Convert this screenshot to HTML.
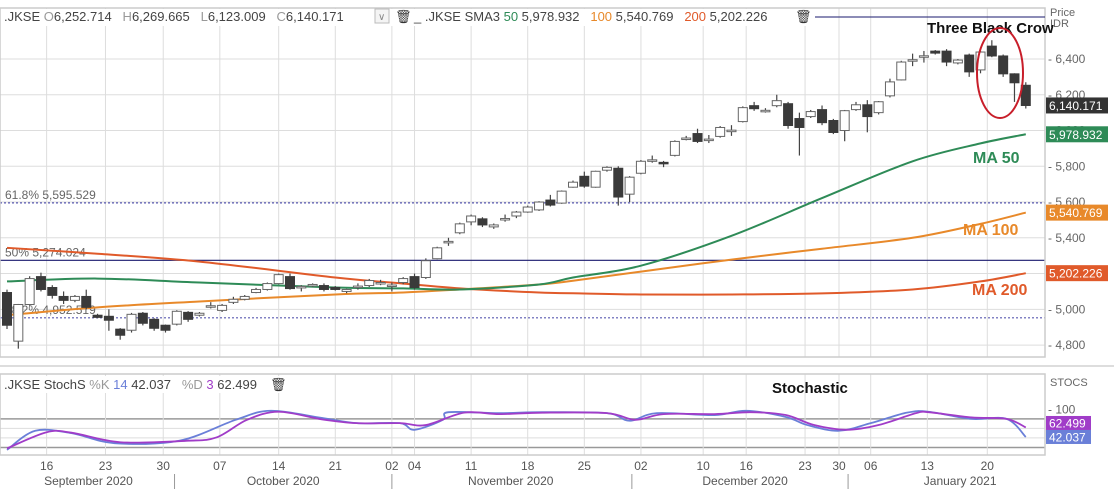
<!DOCTYPE html>
<html><head><meta charset="utf-8"><style>
html,body{margin:0;padding:0;background:#fff;}
svg{display:block;font-family:"Liberation Sans",sans-serif;}
</style></head><body>
<svg id="chart" width="1114" height="489" viewBox="0 0 1114 489" xmlns="http://www.w3.org/2000/svg">
<rect x="0" y="0" width="1114" height="489" fill="#fff"/>
<g id="grid"></g>
<g id="fib"></g>
<g id="ma"></g>
<g id="candles"></g>
<g id="stoch"></g>
<g id="axes"></g>
<rect x="0" y="8" width="1045" height="349" fill="none" stroke="#ccc" stroke-width="1.5"/>
<line x1="0" y1="366" x2="1114" y2="366" stroke="#ddd" stroke-width="2"/>
<rect x="0" y="374" width="1045" height="81" fill="none" stroke="#ccc" stroke-width="1.5"/>
<rect x="1" y="9" width="810" height="17" fill="#fff"/>
<text x="4" y="21" font-size="13" fill="#444">.JKSE <tspan fill="#999">O</tspan>6,252.714 &#160;&#160;<tspan fill="#999">H</tspan>6,269.665 &#160;&#160;<tspan fill="#999">L</tspan>6,123.009 &#160;&#160;<tspan fill="#999">C</tspan>6,140.171</text>
<rect x="375" y="9" width="14" height="14" fill="#f4f4f4" stroke="#bbb"/>
<text x="378" y="20" font-size="10" fill="#888">&#8744;</text>
<text x="395" y="21" font-size="13" fill="#333">&#128465;</text>
<text x="414" y="21" font-size="13" fill="#444">_ .JKSE SMA3 <tspan fill="#2e8b57">50</tspan> 5,978.932 &#160;&#160;<tspan fill="#e8892a">100</tspan> 5,540.769 &#160;&#160;<tspan fill="#e05a2a">200</tspan> 5,202.226</text>
<text x="795" y="21" font-size="13" fill="#333">&#128465;</text>
<line x1="815" y1="17" x2="1045" y2="17" stroke="#1a1a6e" stroke-width="1"/>
<text x="1050" y="16" font-size="11" fill="#666">Price</text>
<text x="1050" y="27" font-size="11" fill="#666">IDR</text>
<text x="927" y="33" font-size="15" font-weight="bold" fill="#111">Three Black Crow</text>
<ellipse cx="1000" cy="73" rx="23" ry="45" fill="none" stroke="#c81e2a" stroke-width="2"/>
<text x="973" y="163" font-size="16" font-weight="bold" fill="#2e8b57">MA 50</text>
<text x="963" y="235" font-size="16" font-weight="bold" fill="#e8892a">MA 100</text>
<text x="972" y="295" font-size="16" font-weight="bold" fill="#e05a2a">MA 200</text>
<rect x="1" y="376" width="290" height="17" fill="#fff"/>
<text x="4" y="389" font-size="13" fill="#444">.JKSE StochS <tspan fill="#999">%K</tspan> <tspan fill="#6a7fd8">14</tspan> 42.037 &#160;&#160;<tspan fill="#999">%D</tspan> <tspan fill="#a03cc8">3</tspan> 62.499</text>
<text x="270" y="389" font-size="13" fill="#333">&#128465;</text>
<text x="772" y="393" font-size="15" font-weight="bold" fill="#111">Stochastic</text>
<text x="1050" y="386" font-size="11" fill="#666">STOCS</text>
</svg>
<script>
const NS='http://www.w3.org/2000/svg';
// OHLC per trading day
const opens=[5094,4822,5027,5183,5122,5072,5050,5072,4967,4961,4889,4883,4978,4944,4911,4917,4983,4967,5017,4994,5039,5056,5094,5111,5144,5183,5122,5133,5133,5122,5100,5128,5133,5150,5133,5150,5183,5178,5283,5378,
5428,5489,5506,5461,5506,5522,5544,5556,5611,5594,5683,5744,5683,5778,5789,5644,5761,5833,5822,5861,5956,5983,5950,5967,6000,6050,6139,6111,6139,6150,6067,6078,6117,6056,6000,6117,6144,6100,
6194,6283,6394,6415,6444,6444,6378,6422,6339,6472,6417,6317,6253];
const closes=[4911,5027,5172,5111,5078,5050,5072,5011,4955,4939,4855,4972,4922,4894,4883,4989,4944,4978,5020,5022,5056,5072,5111,5144,5194,5116,5128,5139,5111,5111,5111,5130,5161,5150,5136,5172,5122,5272,5344,5380,
5478,5522,5472,5472,5508,5544,5572,5600,5583,5661,5711,5689,5772,5794,5628,5739,5828,5836,5820,5939,5958,5939,5952,6017,6002,6128,6122,6113,6167,6028,6017,6106,6044,5989,6111,6144,6078,6161,
6272,6383,6396,6418,6433,6383,6394,6328,6439,6417,6317,6267,6140];
const highs=[5110,5030,5185,5205,5135,5100,5080,5110,4975,5000,4895,4980,4985,4950,4915,4995,4990,4985,5040,5030,5070,5080,5120,5150,5200,5200,5135,5145,5145,5130,5115,5145,5170,5165,5150,5180,5200,5285,5350,5400,
5485,5530,5515,5480,5530,5550,5580,5605,5640,5665,5720,5770,5775,5800,5800,5745,5835,5860,5830,5945,5970,6010,5975,6025,6030,6135,6160,6125,6200,6160,6100,6115,6140,6065,6115,6160,6170,6165,
6290,6390,6430,6445,6450,6455,6400,6430,6445,6505,6425,6320,6270];
const lows=[4890,4780,5020,5100,5060,5030,5040,5000,4950,4880,4830,4870,4910,4880,4870,4910,4930,4960,5005,4985,5030,5050,5090,5105,5140,5110,5100,5125,5100,5105,5090,5110,5125,5135,5100,5140,5110,5170,5280,5355,
5420,5470,5460,5450,5490,5510,5540,5550,5575,5590,5680,5680,5680,5770,5580,5600,5755,5820,5795,5855,5945,5930,5930,5960,5970,6045,6110,6100,6130,6010,5860,6070,6030,5980,5940,6110,5990,6090,
6185,6280,6360,6380,6425,6360,6370,6300,6320,6410,6300,6160,6123];
// moving averages at candle indices
const maIdx=[0,8,17,29,35,40,47,50,56,64,72,80,86,90];
const sma50=[5156,5172,5150,5122,5117,5111,5139,5178,5244,5411,5622,5828,5928,5979];
const sma100=[4967,5011,5044,5083,5094,5111,5139,5160,5211,5278,5339,5400,5478,5541];
const sma200=[5344,5311,5267,5178,5144,5117,5094,5090,5083,5083,5089,5111,5156,5202];
// stochastic
const kIdx=[0,2.5,5.7,9.5,15.2,20.2,23.3,27.8,30.9,34.7,36,38.5,39,43.5,47.3,53,55,57.4,62.5,65.3,68.8,70.7,73.5,76.3,79.5,81.4,85.2,88.3,90];
const kVals=[15,55,50,29,34,78,97,82,71,71,57,78,94,92,94,92,76,92,88,97,84,67,55,71,93,95,80,80,42];
const dIdx=[0,3.5,5.7,10,15.8,18.5,21.2,24,27.8,30.9,34.7,37,40.4,43.5,47.3,53,55.5,58,62.5,65.7,68.8,71.3,74.2,77,80.3,81.4,85.2,88.3,90];
const dVals=[18,52,51,31,34,41,78,95,79,71,71,67,93,90,93,92,78,90,90,94,88,67,57,67,92,94,83,80,62];
// axes
const priceTicks=[6400,6200,6000,5800,5600,5400,5200,5000,4800];
const priceTickLabels=['6,400','6,200','6,000','5,800','5,600','5,400','5,200','5,000','4,800'];
const dayTickIdx=[3.5,8.7,13.8,18.8,24,29,34,36,41,46,51,56,61.5,65.3,70.5,73.5,76.3,81.3,86.6];
const dayTickLabels=['16','23','30','07','14','21','02','04','11','18','25','02','10','16','23','30','06','13','20'];
const monthLabels=['September 2020','October 2020','November 2020','December 2020','January 2021'];
const monthCenterIdx=[7.2,24.4,44.5,65.2,84.2];
const monthSepIdx=[14.8,34,55.2,74.3];
const fibLevels=[5595.529,5274.024,4952.519];
const fibNames=['61.8%','50%','38.2%'];
const tagValues=[6140.171,5978.932,5540.769,5202.226];
const tagLabels=['6,140.171','5,978.932','5,540.769','5,202.226'];
const tagColors=['#333','#2e8b57','#e8892a','#e05a2a'];
const stochTicks=[100];

const X=i=>7+i*11.32;
const Y=v=>59+(6400-v)*0.1788;
const SY=v=>457-v*0.4767;
function mk(tag,attrs,parent){const e=document.createElementNS(NS,tag);for(const k in attrs)e.setAttribute(k,attrs[k]);parent.appendChild(e);return e;}
const grid=document.getElementById('grid'),fib=document.getElementById('fib'),ma=document.getElementById('ma'),cg=document.getElementById('candles'),sg=document.getElementById('stoch'),ax=document.getElementById('axes');

priceTicks.forEach((v,i)=>{
  const l=mk('line',{x1:0,x2:1045,y1:Y(v),y2:Y(v),stroke:'#ddd'},grid);
  
  
  const t=mk('text',{x:1048,y:Y(v)+4,'font-size':12,fill:'#666'},ax);t.textContent='- '+priceTickLabels[i];
  
  
});
[20,40,60,80].forEach(v=>{
  const l=mk('line',{x1:0,x2:1045,y1:SY(v),y2:SY(v),stroke:(v==20||v==80)?'#999':'#ddd','stroke-width':(v==20||v==80)?1.5:1},grid);
  
  
});
stochTicks.forEach(v=>{const t=mk('text',{x:1048,y:SY(v)+4,'font-size':12,fill:'#666'},ax);t.textContent='- '+v;
  
  });
dayTickIdx.forEach((d,i)=>{
  const x=X(d);
  const l=mk('line',{x1:x,x2:x,y1:8,y2:357,stroke:'#ddd'},grid);
  
  
  const l2=mk('line',{x1:x,x2:x,y1:374,y2:455,stroke:'#ddd'},grid);
  
  
  const t=mk('text',{x:x,y:470,'font-size':12,fill:'#555','text-anchor':'middle'},ax);t.textContent=dayTickLabels[i];
  
  
});
monthLabels.forEach((m,i)=>{const t=mk('text',{x:X(monthCenterIdx[i]),y:485,'font-size':12,fill:'#555','text-anchor':'middle'},ax);t.textContent=m;
  
  });
monthSepIdx.forEach(d=>{const l=mk('line',{x1:X(d),x2:X(d),y1:474,y2:489,stroke:'#999'},ax);
  
  });

fibLevels.forEach((v,i)=>{
  const l=mk('line',{x1:0,x2:1045,y1:Y(v),y2:Y(v),stroke:i==1?'#1a1a6e':'#5a5ab0','stroke-width':1.2,'stroke-dasharray':i==1?'':'2,2'},fib);
  
  
  const t=mk('text',{x:5,y:Y(v)-4,'font-size':12,fill:'#666'},fib);
  t.textContent=fibNames[i]+'  '+v.toLocaleString('en-US',{minimumFractionDigits:3});
  
  
});

function smoothPath(pts){
  let d='M'+pts[0][0]+','+pts[0][1];
  for(let i=0;i<pts.length-1;i++){
    const p0=pts[Math.max(0,i-1)],p1=pts[i],p2=pts[i+1],p3=pts[Math.min(pts.length-1,i+2)];
    const c1x=p1[0]+(p2[0]-p0[0])/6,c1y=p1[1]+(p2[1]-p0[1])/6;
    const c2x=p2[0]-(p3[0]-p1[0])/6,c2y=p2[1]-(p3[1]-p1[1])/6;
    d+=' C'+c1x+','+c1y+' '+c2x+','+c2y+' '+p2[0]+','+p2[1];
  }
  return d;
}
function line(idx,vals,fy,color,w,parent,name){
  const pts=idx.map((d,i)=>[X(d),fy(vals[i])]);
  const p=mk('path',{d:smoothPath(pts),fill:'none',stroke:color,'stroke-width':w,'stroke-linejoin':'round'},parent);
  
  
}
line(maIdx,sma200,Y,'#e05a2a',2,ma,'sma200-line');
line(maIdx,sma100,Y,'#e8892a',2,ma,'sma100-line');
line(maIdx,sma50,Y,'#2e8b57',2,ma,'sma50-line');

opens.forEach((o,i)=>{
  const c=closes[i],x=X(i),up=c>=o;
  const g=mk('g',{},cg);
  
  
  mk('line',{x1:x,x2:x,y1:Y(highs[i]),y2:Y(lows[i]),stroke:'#444','stroke-width':1.2},g);
  const top=Y(Math.max(o,c)),h=Math.max(1.5,Y(Math.min(o,c))-top);
  mk('rect',{x:x-4.5,y:top,width:9,height:h,fill:up?'#fff':'#3a3a3a',stroke:up?'#666':'#3a3a3a','stroke-width':1},g);
});

line(kIdx,kVals,SY,'#6a7fd8',1.8,sg,'stoch-k-line');
line(dIdx,dVals,SY,'#a03cc8',1.8,sg,'stoch-d-line');

tagValues.forEach((v,i)=>{
  const y=Y(v);
  const r=mk('rect',{x:1046,y:y-8,width:62,height:16,fill:tagColors[i]},ax);
  
  
  const t=mk('text',{x:1049,y:y+4.5,'font-size':12,fill:'#fff'},ax);t.textContent=tagLabels[i];
  
  
});
const dY=SY(dVals[dVals.length-1]),kY=SY(kVals[kVals.length-1]);
const dTagY=Math.min(dY,kY-14);
const stTags=[[dTagY,'62.499','#a03cc8'],[kY,'42.037','#6a7fd8']];
stTags.forEach(s=>{
  const y=s[0];
  const r=mk('rect',{x:1046,y:y-7,width:45,height:14,fill:s[2]},ax);
  
  
  const t=mk('text',{x:1049,y:y+4.5,'font-size':12,fill:'#fff'},ax);t.textContent=s[1];
  
  
});
</script>
</body></html>
